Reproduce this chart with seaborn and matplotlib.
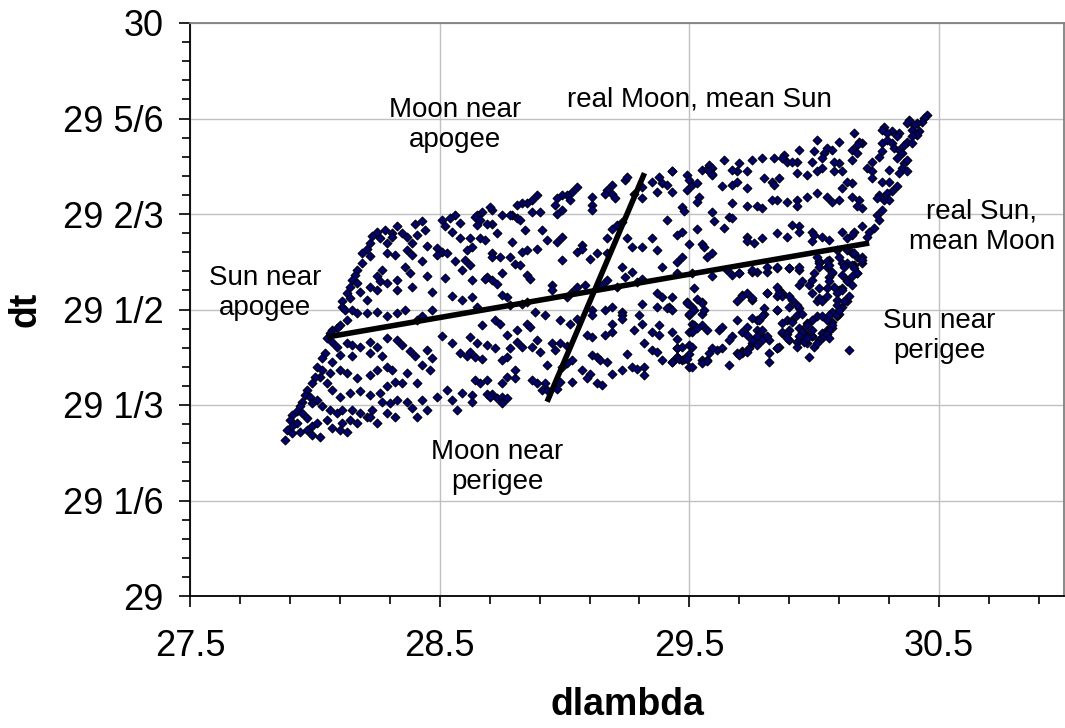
import matplotlib
matplotlib.use("Agg")
import matplotlib.pyplot as plt
import seaborn as sns
import pandas as pd
from matplotlib.ticker import FixedLocator

# ---------------- data ----------------
# lunations: (dlambda, dt) pairs, west / centre / east parts of the cloud
lunations_west = [
    (28.56, 29.665), (28.54, 29.659), (28.51, 29.657), (28.58, 29.651), (28.52, 29.645),
    (28.55, 29.636), (28.58, 29.625), (28.43, 29.654), (28.40, 29.650), (28.44, 29.639),
    (28.41, 29.630), (28.33, 29.646), (28.35, 29.633), (28.31, 29.633), (28.28, 29.639),
    (28.25, 29.636), (28.23, 29.629), (28.26, 29.625), (28.29, 29.616), (28.31, 29.627),
    (28.37, 29.627), (28.22, 29.616), (28.21, 29.605), (28.39, 29.616), (28.45, 29.610),
    (28.49, 29.607), (28.51, 29.601), (28.49, 29.595), (28.53, 29.598), (28.56, 29.584),
    (28.60, 29.587), (28.61, 29.604), (28.19, 29.598), (28.22, 29.593), (28.19, 29.581),
    (28.17, 29.569), (28.16, 29.560), (28.15, 29.552), (28.17, 29.546), (28.14, 29.540),
    (28.13, 29.529), (28.14, 29.520), (28.11, 29.514), (28.11, 29.505), (28.12, 29.499),
    (28.29, 29.598), (28.32, 29.595), (28.37, 29.604), (28.39, 29.595), (28.43, 29.584),
    (28.36, 29.575), (28.38, 29.563), (28.45, 29.558), (28.27, 29.569), (28.25, 29.558),
    (28.26, 29.549), (28.29, 29.546), (28.33, 29.552), (28.22, 29.540), (28.25, 29.534),
    (28.33, 29.534), (28.21, 29.517), (28.18, 29.531), (28.39, 29.540), (28.47, 29.531),
    (28.52, 29.555), (28.59, 29.569), (28.55, 29.523), (28.59, 29.517), (28.47, 29.499),
    (28.43, 29.488), (28.41, 29.482), (28.36, 29.499), (28.33, 29.494), (28.29, 29.488),
    (28.25, 29.496), (28.21, 29.494), (28.17, 29.494), (28.15, 29.499), (28.13, 29.482),
    (28.10, 29.473), (28.09, 29.467), (28.07, 29.464), (28.06, 29.459), (28.05, 29.450),
    (28.07, 29.444), (28.09, 29.435), (28.13, 29.441), (28.15, 29.438), (28.18, 29.435),
    (28.22, 29.444), (28.25, 29.435), (28.29, 29.450), (28.33, 29.447), (28.35, 29.438),
    (28.38, 29.427), (28.40, 29.418), (28.45, 29.430), (28.47, 29.415), (28.51, 29.453),
    (28.55, 29.441), (28.58, 29.424), (28.61, 29.418), (28.27, 29.418), (28.22, 29.424),
    (28.15, 29.418), (28.10, 29.421), (28.07, 29.409), (28.04, 29.424), (28.03, 29.415),
    (28.01, 29.400), (28.03, 29.395), (28.02, 29.383), (28.06, 29.389), (28.10, 29.395),
    (28.13, 29.389), (28.17, 29.380), (28.22, 29.386), (28.25, 29.395), (28.29, 29.400),
    (28.31, 29.395), (28.37, 29.389), (28.43, 29.403), (28.46, 29.395), (28.41, 29.371),
    (28.35, 29.371), (28.32, 29.374), (28.29, 29.366), (28.26, 29.354), (28.22, 29.351),
    (28.18, 29.357), (28.14, 29.354), (28.10, 29.348), (28.07, 29.360), (28.05, 29.371),
    (28.00, 29.383), (27.99, 29.371), (27.97, 29.360), (27.96, 29.351), (27.98, 29.348),
    (27.95, 29.339), (27.99, 29.336), (28.01, 29.342), (28.03, 29.331), (28.06, 29.325),
    (28.09, 29.319), (28.11, 29.325), (28.15, 29.325), (28.18, 29.319), (28.21, 29.313),
    (28.23, 29.325), (28.27, 29.339), (28.30, 29.336), (28.33, 29.342), (28.37, 29.339),
    (28.39, 29.328), (28.43, 29.342), (28.45, 29.325), (28.41, 29.313), (28.49, 29.348),
    (28.53, 29.360), (28.55, 29.342), (28.59, 29.354), (28.57, 29.325), (27.94, 29.331),
    (27.93, 29.322), (27.91, 29.316), (27.90, 29.307), (27.95, 29.319), (27.97, 29.310),
    (27.93, 29.302), (27.91, 29.296), (27.89, 29.290), (27.88, 29.272), (27.91, 29.284),
    (27.94, 29.287), (27.97, 29.290), (27.99, 29.296), (28.01, 29.302), (28.05, 29.307),
    (28.02, 29.278), (27.99, 29.281), (28.07, 29.293), (28.11, 29.302), (28.14, 29.307),
    (28.17, 29.302), (28.22, 29.313), (28.25, 29.302), (28.13, 29.287), (28.10, 29.290),
    (28.29, 29.319), (28.32, 29.313),
]

lunations_centre = [
    (29.35, 29.723), (29.38, 29.731), (29.39, 29.720), (29.43, 29.742), (29.37, 29.705),
    (29.31, 29.714), (29.28, 29.702), (29.31, 29.694), (29.24, 29.726), (29.25, 29.731),
    (29.19, 29.717), (29.17, 29.708), (29.19, 29.702), (29.16, 29.702), (29.20, 29.694),
    (29.11, 29.697), (29.11, 29.682), (29.11, 29.673), (29.05, 29.714), (29.03, 29.705),
    (29.01, 29.699), (28.99, 29.699), (28.97, 29.694), (29.02, 29.691), (28.97, 29.667),
    (28.99, 29.673), (28.96, 29.682), (28.89, 29.699), (28.87, 29.691), (28.85, 29.685),
    (28.83, 29.685), (28.81, 29.682), (28.87, 29.670), (28.90, 29.670), (28.79, 29.665),
    (28.81, 29.659), (28.82, 29.656), (28.78, 29.665), (28.75, 29.665), (28.71, 29.673),
    (28.70, 29.679), (28.71, 29.650), (28.69, 29.650), (28.67, 29.670), (28.65, 29.665),
    (28.64, 29.662), (28.66, 29.656), (28.65, 29.647), (28.62, 29.624), (28.63, 29.609),
    (28.66, 29.624), (28.68, 29.621), (28.73, 29.633), (28.79, 29.618), (28.84, 29.638),
    (28.91, 29.638), (28.93, 29.621), (28.97, 29.618), (28.99, 29.627), (28.89, 29.606),
    (28.85, 29.603), (28.71, 29.598), (28.71, 29.592), (28.74, 29.592), (28.78, 29.592),
    (28.83, 29.601), (28.80, 29.580), (28.82, 29.577), (28.75, 29.563), (28.69, 29.557),
    (28.71, 29.551), (28.73, 29.545), (28.63, 29.551), (28.62, 29.577), (28.68, 29.554),
    (28.99, 29.586), (29.05, 29.601), (29.07, 29.612), (29.07, 29.606), (29.10, 29.589),
    (29.13, 29.598), (29.17, 29.598), (29.19, 29.641), (29.21, 29.647), (29.23, 29.653),
    (29.17, 29.624), (29.25, 29.624), (29.27, 29.609), (29.31, 29.609), (29.35, 29.624),
    (29.37, 29.603), (29.39, 29.574), (29.31, 29.554), (29.29, 29.548), (29.24, 29.557),
    (29.27, 29.566), (29.23, 29.574), (29.21, 29.539), (29.17, 29.551), (29.15, 29.542),
    (29.08, 29.542), (29.05, 29.539), (29.03, 29.531), (29.01, 29.522), (28.95, 29.542),
    (28.95, 29.534), (28.85, 29.560), (28.86, 29.554), (28.85, 29.513), (28.83, 29.510),
    (28.78, 29.507), (28.77, 29.522), (28.75, 29.525), (28.65, 29.505), (28.63, 29.522),
    (29.11, 29.499), (29.11, 29.490), (29.16, 29.499), (29.19, 29.505), (29.23, 29.496),
    (29.23, 29.490), (29.31, 29.510), (29.30, 29.490), (29.37, 29.505), (29.37, 29.528),
    (29.39, 29.522), (29.42, 29.505), (29.49, 29.513), (29.53, 29.519), (29.51, 29.505),
    (29.55, 29.513), (29.50, 29.490), (29.55, 29.493), (29.51, 29.475), (29.52, 29.467),
    (29.50, 29.461), (29.43, 29.461), (29.38, 29.473), (29.38, 29.455), (29.35, 29.461),
    (29.31, 29.475), (29.28, 29.464), (29.23, 29.484), (29.19, 29.475), (29.19, 29.461),
    (29.16, 29.455), (29.11, 29.452), (29.09, 29.455), (29.05, 29.484), (29.02, 29.475),
    (28.98, 29.481), (28.92, 29.490), (28.85, 29.475), (28.88, 29.496), (28.86, 29.470),
    (28.81, 29.464), (28.81, 29.444), (28.77, 29.455), (28.74, 29.475), (28.72, 29.481),
    (28.67, 29.473), (28.62, 29.452), (28.65, 29.441), (28.62, 29.426), (28.64, 29.417),
    (28.67, 29.414), (28.69, 29.438), (28.72, 29.432), (28.75, 29.412), (28.77, 29.417),
    (28.78, 29.432), (28.83, 29.435), (28.87, 29.435), (28.90, 29.426), (28.89, 29.446),
    (28.95, 29.441), (28.96, 29.429), (28.98, 29.441), (29.01, 29.436), (29.03, 29.412),
    (29.01, 29.406), (28.99, 29.400), (28.98, 29.374), (28.93, 29.403), (28.92, 29.371),
    (28.89, 29.371), (28.91, 29.359), (28.87, 29.377), (28.93, 29.359), (28.97, 29.362),
    (29.03, 29.374), (29.07, 29.394), (29.10, 29.388), (29.09, 29.380), (29.13, 29.371),
    (29.15, 29.368), (29.19, 29.388), (29.23, 29.394), (29.27, 29.400), (29.25, 29.423),
    (29.29, 29.397), (29.32, 29.400), (29.32, 29.385), (29.35, 29.429), (29.32, 29.441),
    (29.37, 29.426), (29.39, 29.412), (29.43, 29.409), (29.45, 29.432), (29.45, 29.417),
    (29.47, 29.412), (29.50, 29.400), (29.50, 29.423), (29.55, 29.412), (29.57, 29.412),
    (29.11, 29.420), (29.13, 29.417), (29.14, 29.412), (29.17, 29.409), (28.80, 29.394),
    (28.80, 29.380), (28.77, 29.382), (28.75, 29.371), (28.73, 29.345), (28.75, 29.348),
    (28.77, 29.345), (28.75, 29.336), (28.71, 29.353), (28.69, 29.353), (28.70, 29.348),
    (28.63, 29.350), (28.63, 29.339), (28.69, 29.377), (28.66, 29.371), (28.64, 29.377),
    (29.41, 29.717), (29.43, 29.742), (29.43, 29.705), (29.41, 29.657), (29.47, 29.679),
    (29.48, 29.672), (29.49, 29.735), (29.50, 29.726), (29.51, 29.717), (29.49, 29.708),
    (29.53, 29.720), (29.55, 29.743), (29.57, 29.746), (29.58, 29.752), (29.59, 29.737),
    (29.54, 29.696), (29.53, 29.688), (29.53, 29.641), (29.45, 29.630), (29.47, 29.636),
    (29.50, 29.615), (29.55, 29.615), (29.56, 29.609), (29.57, 29.592), (29.59, 29.598),
    (29.47, 29.592), (29.45, 29.583), (29.45, 29.563), (29.51, 29.563), (29.52, 29.537),
    (29.43, 29.522), (29.41, 29.502), (29.43, 29.499), (29.49, 29.512), (29.50, 29.492),
    (29.52, 29.499), (29.55, 29.512), (29.56, 29.500), (29.55, 29.473), (29.52, 29.473),
    (29.53, 29.467), (29.51, 29.461), (29.57, 29.464), (29.45, 29.448), (29.45, 29.432),
    (29.47, 29.435), (29.45, 29.417), (29.46, 29.414), (29.48, 29.413), (29.49, 29.414),
    (29.50, 29.438), (29.51, 29.435), (29.51, 29.400), (29.55, 29.406), (29.57, 29.410),
    (29.43, 29.409),
]

lunations_east = [
    (30.45, 29.840), (30.44, 29.834), (30.43, 29.828), (30.41, 29.825), (30.40, 29.822),
    (30.38, 29.831), (30.37, 29.825), (30.39, 29.814), (30.42, 29.811), (30.41, 29.805),
    (30.39, 29.802), (30.37, 29.793), (30.39, 29.790), (30.36, 29.787), (30.34, 29.808),
    (30.33, 29.802), (30.31, 29.811), (30.29, 29.808), (30.28, 29.819), (30.27, 29.814),
    (30.29, 29.796), (30.31, 29.790), (30.32, 29.782), (30.34, 29.779), (30.35, 29.773),
    (30.33, 29.764), (30.36, 29.755), (30.35, 29.747), (30.37, 29.761), (30.37, 29.741),
    (30.34, 29.738), (30.30, 29.744), (30.27, 29.790), (30.27, 29.776), (30.26, 29.767),
    (30.23, 29.758), (30.19, 29.790), (30.18, 29.793), (30.17, 29.787), (30.15, 29.779),
    (30.17, 29.773), (30.15, 29.761), (30.16, 29.808), (30.10, 29.793), (30.07, 29.779),
    (30.05, 29.782), (30.04, 29.773), (30.01, 29.796), (30.00, 29.776), (29.99, 29.758),
    (30.03, 29.764), (29.94, 29.779), (29.93, 29.758), (29.88, 29.770), (29.87, 29.764),
    (29.89, 29.758), (29.91, 29.758), (29.84, 29.764), (29.79, 29.764), (29.75, 29.761),
    (29.70, 29.755), (29.69, 29.741), (29.67, 29.744), (29.73, 29.741), (29.64, 29.761),
    (29.59, 29.747), (29.58, 29.741), (29.59, 29.735), (29.63, 29.715), (29.67, 29.718),
    (29.69, 29.723), (29.73, 29.712), (29.80, 29.729), (29.83, 29.723), (29.86, 29.729),
    (29.84, 29.718), (29.93, 29.738), (29.97, 29.735), (30.01, 29.741), (30.03, 29.747),
    (30.08, 29.741), (30.11, 29.741), (30.10, 29.755), (30.08, 29.758), (30.21, 29.747),
    (30.23, 29.741), (30.23, 29.729), (30.27, 29.723), (30.30, 29.723), (30.33, 29.715),
    (30.31, 29.706), (30.29, 29.703), (30.26, 29.700), (30.25, 29.694), (30.28, 29.691),
    (30.30, 29.691), (30.27, 29.674), (30.25, 29.665), (30.26, 29.656), (30.24, 29.642),
    (30.22, 29.636), (30.21, 29.627), (30.19, 29.645), (30.16, 29.636), (30.15, 29.630),
    (30.13, 29.624), (30.11, 29.636), (30.15, 29.720), (30.13, 29.723), (30.11, 29.712),
    (30.15, 29.697), (30.18, 29.691), (30.19, 29.677), (30.17, 29.680), (30.10, 29.691),
    (30.07, 29.688), (30.05, 29.697), (30.01, 29.703), (29.97, 29.697), (29.93, 29.691),
    (29.93, 29.680), (29.89, 29.688), (29.85, 29.691), (29.83, 29.691), (29.79, 29.677),
    (29.77, 29.680), (29.73, 29.680), (29.67, 29.686), (29.59, 29.671), (29.60, 29.654),
    (29.66, 29.662), (29.67, 29.659), (29.64, 29.642), (29.73, 29.627), (29.73, 29.619),
    (29.76, 29.616), (29.79, 29.624), (29.85, 29.633), (29.89, 29.627), (29.91, 29.648),
    (29.94, 29.645), (29.94, 29.636), (29.99, 29.636), (30.00, 29.630), (30.03, 29.627),
    (30.06, 29.622), (29.99, 29.619), (30.09, 29.604), (30.10, 29.592), (30.13, 29.604),
    (30.15, 29.598), (30.17, 29.592), (30.19, 29.592), (30.13, 29.581), (30.16, 29.578),
    (30.19, 29.581), (30.17, 29.563), (30.15, 29.558), (30.13, 29.552), (30.11, 29.537),
    (30.10, 29.534), (30.08, 29.540), (30.05, 29.537), (30.02, 29.537), (29.99, 29.528),
    (30.03, 29.517), (30.01, 29.514), (30.05, 29.523), (30.07, 29.563), (30.05, 29.575),
    (30.06, 29.587), (30.02, 29.584), (30.01, 29.592), (30.00, 29.563), (29.98, 29.543),
    (29.94, 29.569), (29.90, 29.572), (29.85, 29.572), (29.81, 29.566), (29.77, 29.566),
    (29.75, 29.566), (29.70, 29.563), (29.67, 29.560), (29.65, 29.569), (29.59, 29.558),
    (29.71, 29.526), (29.73, 29.528), (29.75, 29.517), (29.81, 29.528), (29.86, 29.534),
    (29.85, 29.523), (29.87, 29.528), (29.91, 29.517), (29.94, 29.502), (29.93, 29.491),
    (29.89, 29.482), (29.87, 29.476), (29.85, 29.499), (29.80, 29.493), (29.77, 29.482),
    (29.75, 29.485), (29.71, 29.461), (29.67, 29.453), (29.62, 29.464), (29.63, 29.470),
    (29.66, 29.447), (29.63, 29.432), (29.61, 29.430), (29.59, 29.432), (29.58, 29.424),
    (29.69, 29.424), (29.71, 29.427), (29.74, 29.432), (29.77, 29.464), (29.79, 29.453),
    (29.82, 29.447), (29.85, 29.432), (29.87, 29.459), (29.90, 29.447), (29.94, 29.447),
    (29.97, 29.441), (30.00, 29.435), (30.02, 29.447), (30.03, 29.459), (30.05, 29.464),
    (30.07, 29.467), (30.07, 29.479), (30.09, 29.488), (30.10, 29.493), (30.11, 29.505),
    (30.13, 29.514), (30.14, 29.523), (30.01, 29.488), (29.99, 29.482), (29.97, 29.476),
    (29.95, 29.464), (29.97, 29.456), (29.99, 29.453), (29.94, 29.467), (29.90, 29.464),
    (29.73, 29.456), (29.75, 29.441), (29.66, 29.403), (29.82, 29.408), (29.98, 29.417),
    (30.14, 29.429),
    (30.02, 29.581), (30.02, 29.575), (30.05, 29.584), (30.06, 29.578), (30.11, 29.581),
    (30.12, 29.575), (30.15, 29.578), (30.16, 29.572), (30.17, 29.563), (30.19, 29.587),
    (30.16, 29.598), (30.07, 29.566), (30.11, 29.560), (30.06, 29.557), (30.06, 29.549),
    (30.13, 29.549), (30.15, 29.543), (30.11, 29.534), (30.09, 29.528), (30.09, 29.517),
    (30.12, 29.514), (30.09, 29.508), (30.07, 29.496), (30.06, 29.491), (30.05, 29.482),
    (30.03, 29.488), (30.09, 29.491), (30.10, 29.499), (30.07, 29.473), (30.06, 29.464),
    (30.05, 29.458), (30.06, 29.450), (30.03, 29.450), (30.02, 29.447), (30.01, 29.441),
    (29.99, 29.453), (29.99, 29.464), (29.97, 29.473), (29.95, 29.461), (29.94, 29.453),
    (29.93, 29.444), (29.93, 29.435), (29.96, 29.444), (29.97, 29.450), (29.95, 29.493),
    (29.93, 29.508), (29.90, 29.505), (29.91, 29.482), (29.91, 29.479), (29.87, 29.461),
    (29.89, 29.458), (29.89, 29.450), (29.86, 29.435), (29.85, 29.432), (29.82, 29.424),
    (29.71, 29.424), (29.70, 29.421), (29.73, 29.426), (29.75, 29.447), (29.77, 29.438),
    (29.79, 29.447), (29.79, 29.464), (29.78, 29.482), (29.79, 29.488), (29.80, 29.502),
    (29.85, 29.499), (29.87, 29.523), (29.86, 29.528), (29.85, 29.540), (29.81, 29.528),
    (29.75, 29.520), (29.71, 29.523), (29.69, 29.514), (29.69, 29.482), (29.73, 29.470),
    (29.81, 29.453), (29.77, 29.453), (29.99, 29.552), (29.94, 29.543), (29.95, 29.549),
    (29.90, 29.523), (30.02, 29.520), (30.03, 29.514), (29.81, 29.575), (29.85, 29.575),
    (29.90, 29.572), (29.94, 29.575), (29.70, 29.563), (29.75, 29.569),
]

# the two axis lines drawn through the cloud
sun_axis_dlambda = [28.05, 30.22]
sun_axis_dt = [29.452, 29.616]
moon_axis_dlambda = [28.93, 29.32]
moon_axis_dt = [29.339, 29.738]

y_tick_values = [29, 29 + 1/6, 29 + 1/3, 29.5, 29 + 2/3, 29 + 5/6, 30]
y_tick_labels = ["29", "29 1/6", "29 1/3", "29 1/2", "29 2/3", "29 5/6", "30"]
y_minor_values = [29 + k / 30 for k in range(31)]
x_tick_values = [27.5, 28.5, 29.5, 30.5]
x_tick_labels = ["27.5", "28.5", "29.5", "30.5"]
x_minor_values = [27.5 + 0.2 * k for k in range(18)]

annotations = [
    ("real Moon, mean Sun", 29.54, 29.866),
    ("Moon near\napogee", 28.56, 29.822),
    ("real Sun,\nmean Moon", 30.67, 29.644),
    ("Sun near\napogee", 27.80, 29.529),
    ("Sun near\nperigee", 30.50, 29.454),
    ("Moon near\nperigee", 28.73, 29.225),
]

# ---------------- figure ----------------
sns.set_style("white")
plt.rcParams["font.family"] = ["Liberation Sans", "DejaVu Sans"]
plt.rcParams["text.color"] = "black"
plt.rcParams["axes.labelcolor"] = "black"
plt.rcParams["xtick.color"] = "black"
plt.rcParams["ytick.color"] = "black"

fig = plt.figure(figsize=(10.65, 7.28), dpi=100)
ax = fig.add_axes([190 / 1065, 1 - 596 / 728, (1064 - 190) / 1065, (596 - 23) / 728])

df = pd.DataFrame(lunations_west + lunations_centre + lunations_east,
                  columns=["dlambda", "dt"])

sns.scatterplot(data=df, x="dlambda", y="dt", ax=ax, marker="D", s=20,
                color="#000080", edgecolor="black", linewidth=0.8, zorder=3)

lines_df = pd.DataFrame({
    "dlambda": sun_axis_dlambda + moon_axis_dlambda,
    "dt": sun_axis_dt + moon_axis_dt,
    "axis": ["sun", "sun", "moon", "moon"],
})
for name, grp in lines_df.groupby("axis"):
    sns.lineplot(data=grp, x="dlambda", y="dt", ax=ax, color="black",
                 linewidth=4.0, sort=False, estimator=None, zorder=4,
                 solid_capstyle="butt")

ax.set_xlim(27.5, 31.0)
ax.set_ylim(29.0, 30.0)

ax.xaxis.set_major_locator(FixedLocator(x_tick_values))
ax.set_xticklabels(x_tick_labels)
ax.xaxis.set_minor_locator(FixedLocator(x_minor_values))
ax.yaxis.set_major_locator(FixedLocator(y_tick_values))
ax.set_yticklabels(y_tick_labels)
ax.yaxis.set_minor_locator(FixedLocator(y_minor_values))

ax.grid(True, which="major", color="#c0c0c0", linewidth=1.0, zorder=0)
ax.set_axisbelow(True)

ax.tick_params(axis="both", which="major", direction="out", length=8,
               width=1.2, color="black", labelsize=26, labelcolor="black")
ax.tick_params(axis="x", which="major", pad=16)
ax.tick_params(axis="y", which="major", pad=11)
ax.tick_params(axis="both", which="minor", direction="out", length=6,
               width=1.2, color="black")
ax.tick_params(axis="both", which="both", bottom=True, left=True,
               top=False, right=False)

for side in ["left", "bottom"]:
    ax.spines[side].set_color("black")
    ax.spines[side].set_linewidth(1.3)
for side in ["top", "right"]:
    ax.spines[side].set_color("#808080")
    ax.spines[side].set_linewidth(1.3)

ax.set_xlabel("dlambda", fontsize=27, fontweight="bold", labelpad=16, color="black")
ax.set_ylabel("dt", fontsize=27, fontweight="bold", labelpad=14, color="black")

for text, tx, ty in annotations:
    ax.text(tx, ty, text, ha="center", va="center", fontsize=20, color="black",
            multialignment="center", linespacing=1.2, zorder=5)

fig.savefig("out.png", dpi=100, facecolor="white")
